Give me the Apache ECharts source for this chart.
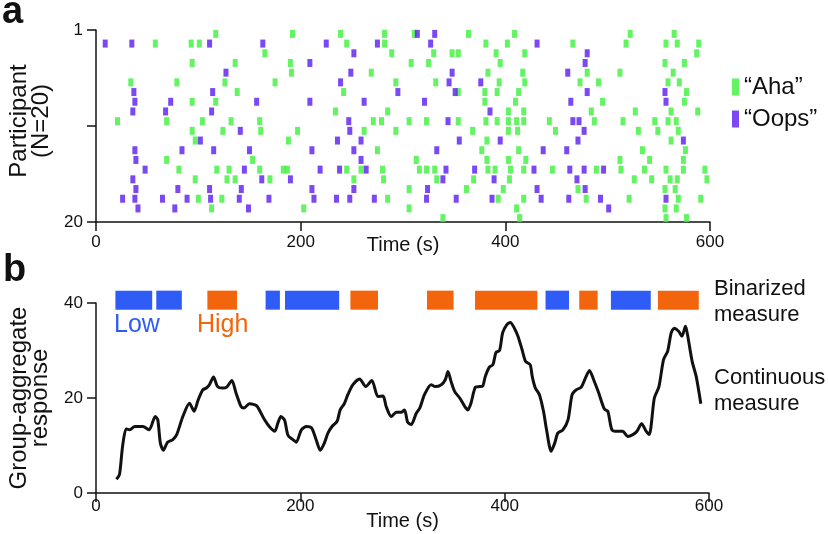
<!DOCTYPE html>
<html>
<head>
<meta charset="utf-8">
<script src="https://cdn.jsdelivr.net/npm/echarts@6/dist/echarts.min.js"></script>
<style>
  html, body { margin: 0; padding: 0; background: #fff; }
  #main { width: 828px; height: 534px; }
</style>
</head>
<body>
<div id="main"></div>
<script>
// raster: event times (s) for each participant, row 1..20
var ahaRows = [
  [117, 192, 239, 282, 311, 364, 409, 522, 565],
  [58, 93, 101, 245, 282, 381, 402, 466, 518, 557, 568, 589],
  [165, 289, 330, 348, 354, 391, 419, 587],
  [94, 136, 190, 308, 325, 395, 556, 575],
  [191, 269, 383, 417, 480, 512, 564],
  [34, 79, 126, 175, 293, 332, 394, 419, 473, 491, 559, 570],
  [138, 242, 354, 380, 392, 413, 577],
  [94, 117, 380, 410, 495, 575],
  [234, 285, 403, 418, 484, 527, 562, 588],
  [21, 69, 104, 132, 160, 271, 279, 306, 323, 354, 381, 392, 403, 411, 418, 443, 487, 515, 546, 559, 567],
  [94, 124, 161, 197, 262, 293, 368, 403, 412, 449, 530, 549, 569],
  [97, 188, 382, 562],
  [275, 377, 413, 534, 576],
  [69, 153, 313, 382, 403, 420, 512, 541, 574],
  [81, 118, 130, 160, 183, 187, 245, 259, 280, 316, 323, 331, 383, 390, 405, 418, 446, 489, 513, 536, 557, 574, 595],
  [97, 128, 136, 170, 252, 281, 333, 369, 404, 526, 543, 561, 568, 597],
  [306, 362, 398, 471, 556, 566],
  [100, 123, 285, 393, 418, 479, 521, 569, 591],
  [113, 203, 306, 411, 556, 567],
  [339, 414, 557, 577]
];
var oopsRows = [
  [314, 331],
  [9, 35, 111, 163, 225, 275, 327, 431],
  [252, 480],
  [209, 478],
  [127, 249, 348, 461],
  [239, 345, 376],
  [37, 114, 295, 351, 480, 556],
  [38, 73, 157, 209, 262, 321, 464, 557],
  [36, 68, 113, 385],
  [247, 344, 466, 472],
  [141, 248, 477],
  [102, 236, 259, 355, 395, 471, 574],
  [38, 84, 115, 150, 211, 252, 333, 437, 460],
  [39, 259],
  [48, 145, 219, 238, 264, 342, 370, 428, 463, 477, 496],
  [36, 162, 190, 339, 389, 470],
  [39, 80, 111, 142, 211, 252, 324, 431, 478],
  [26, 38, 65, 89, 112, 140, 169, 213, 235, 248, 272, 323, 352, 387, 435, 462, 493, 557],
  [41, 77, 149, 501],
  []
];

// binarized measure segments: [start, end, level]
var binStart = [19, 59, 109, 166, 185, 249, 324, 371, 440, 473, 504, 550];
var binEnd   = [55, 84, 138, 180, 238, 276, 350, 432, 463, 491, 543, 590];
var binLevel = ['low', 'low', 'high', 'low', 'low', 'high', 'high', 'high', 'low', 'high', 'low', 'high'];

// continuous group-aggregate response
var respTime = [20, 23, 26, 29.5, 33, 38, 46, 52, 58, 60.5, 63, 66, 70, 75, 79, 85, 91.5, 96, 100, 104.5, 108, 111,
  115, 119, 124, 128, 133, 137, 142, 145, 150, 155, 158, 165, 170, 175, 178, 181, 184.5, 188, 193, 196, 201, 206,
  211, 215.5, 219.5, 223.5, 227, 231, 236, 239, 243, 246.5, 251.5, 258, 264, 270, 276, 281, 284, 289, 294, 299,
  302, 305, 308.5, 313.5, 317, 321.5, 328, 332, 338, 342, 344.5, 347.5, 351, 356, 361, 364, 367, 371.5, 375.5,
  378.5, 381, 385, 388.5, 391.5, 395, 398, 402, 405.5, 409.5, 413, 417, 420.5, 425, 427, 430, 434, 438, 441, 445.5,
  449, 452, 457, 462, 466, 470, 475, 479, 483, 487, 492, 497.5, 501, 505, 510.5, 515.5, 520.5, 525.5, 529.5, 534,
  538.5, 541.5, 546.5, 551, 555.5, 559.5, 563, 566, 570.5, 573.5, 577, 579, 583.5, 587.5, 592];
var respValue = [2.9, 3.9, 9.8, 13.5, 13.3, 14.0, 14.0, 13.3, 16.1, 15.4, 10.5, 9.0, 10.7, 11.2, 12.3, 16.1, 18.9, 17.2,
  19.6, 21.7, 22.1, 22.8, 24.4, 22.4, 22.1, 22.3, 23.7, 21.1, 18.2, 17.9, 18.8, 18.6, 18.2, 15.4, 13.9, 13.0, 14.7,
  16.1, 15.4, 12.1, 11.2, 10.7, 13.3, 14.0, 13.7, 11.2, 9.0, 10.5, 12.6, 14.0, 15.1, 17.5, 18.8, 20.7, 22.8, 24.0,
  22.4, 23.7, 20.3, 20.4, 18.2, 16.1, 17.0, 17.0, 17.5, 14.9, 14.4, 16.8, 17.9, 20.7, 22.8, 22.4, 22.8, 23.9, 25.6,
  23.5, 21.4, 20.0, 18.2, 17.5, 18.9, 22.3, 22.4, 22.5, 24.5, 26.5, 27.0, 29.6, 30.0, 33.7, 35.4, 35.9, 34.7, 33.0,
  30.2, 27.7, 27.0, 24.5, 22.1, 20.7, 17.2, 13.3, 8.8, 10.5, 12.6, 13.3, 15.4, 20.7, 21.7, 22.3, 24.2, 25.8, 23.9,
  21.1, 17.7, 17.2, 13.3, 13.0, 13.0, 11.9, 12.3, 13.0, 14.6, 13.0, 12.3, 20.0, 22.4, 28.1, 29.8, 33.7, 34.7, 34.0,
  33.0, 35.1, 33.3, 27.7, 24.5, 18.8];

var participantTicks = ['1', '', '20'];

var FONT = '"Liberation Sans", Arial, Helvetica, sans-serif';
var GREEN = '#3cf03c', PURPLE = '#5a1cf0', BLUE = '#2f5cf7', ORANGE = '#f2650c';

function rasterData(rows) {
  var out = [];
  rows.forEach(function (times, i) {
    times.forEach(function (t) { out.push([t, i + 1]); });
  });
  return out;
}
var respData = respTime.map(function (t, i) { return [t, respValue[i]]; });
var binData = binStart.map(function (s, i) { return [s, binEnd[i], binLevel[i]]; });

var axisLine = { show: true, onZero: false, lineStyle: { color: '#111', width: 1.5 } };
var axisTick = { inside: false, length: 9, lineStyle: { color: '#111', width: 1.5 } };
var labelStyle = { fontSize: 17, color: '#111' };

var chart = echarts.init(document.getElementById('main'));
var option = {
  animation: false,
  textStyle: { fontFamily: FONT },
  grid: [
    { left: 96, top: 30, width: 614, height: 192, outerBoundsMode: 'none', containLabel: false },
    { left: 96, top: 303, width: 613, height: 190, outerBoundsMode: 'none', containLabel: false }
  ],
  legend: {
    data: ['\u201cAha\u201d', '\u201cOops\u201d'],
    orient: 'vertical', left: 732, top: 75, itemGap: 8, padding: 0,
    itemWidth: 7, itemHeight: 17, icon: 'rect',
    textStyle: { fontSize: 24, lineHeight: 24, color: '#111', fontFamily: FONT }
  },
  xAxis: [
    {
      gridIndex: 0, type: 'value', min: 0, max: 600, interval: 200,
      axisLine: axisLine, axisTick: axisTick, splitLine: { show: false },
      axisLabel: Object.assign({ margin: 12 }, labelStyle),
      name: 'Time (s)', nameLocation: 'middle', nameGap: 13, nameMoveOverlap: false,
      nameTextStyle: { fontSize: 20, color: '#111' }
    },
    {
      gridIndex: 1, type: 'value', min: 0, max: 600, interval: 200,
      axisLine: axisLine, axisTick: axisTick, splitLine: { show: false },
      axisLabel: Object.assign({ margin: 5 }, labelStyle),
      name: 'Time (s)', nameLocation: 'middle', nameGap: 18, nameMoveOverlap: false,
      nameTextStyle: { fontSize: 20, color: '#111' }
    }
  ],
  yAxis: [
    {
      gridIndex: 0, type: 'value', min: 0, max: 19, interval: 9.5, inverse: true,
      axisLine: axisLine, axisTick: axisTick, splitLine: { show: false },
      axisLabel: Object.assign({ margin: 13,
        formatter: function (v) { return participantTicks[Math.round(v / 9.5)]; } }, labelStyle),
      name: 'Participant\n(N=20)', nameLocation: 'middle', nameGap: 43, nameRotate: 90,
      nameTextStyle: { fontSize: 24, color: '#111', lineHeight: 22, padding: [0, 0, 0, 10] }
    },
    {
      gridIndex: 0, type: 'value', min: 0.6, max: 20.4, inverse: true, show: false
    },
    {
      gridIndex: 1, type: 'value', min: 0, max: 40, interval: 20,
      axisLine: axisLine, axisTick: axisTick, splitLine: { show: false },
      axisLabel: Object.assign({ margin: 13 }, labelStyle),
      name: 'Group-aggregate\nresponse', nameLocation: 'middle', nameGap: 45, nameRotate: 90,
      nameTextStyle: { fontSize: 24, color: '#111', lineHeight: 21 }
    }
  ],
  series: [
    {
      name: '\u201cAha\u201d', type: 'scatter', xAxisIndex: 0, yAxisIndex: 1,
      symbol: 'rect', symbolSize: [5, 8], itemStyle: { color: GREEN },
      data: rasterData(ahaRows)
    },
    {
      name: '\u201cOops\u201d', type: 'scatter', xAxisIndex: 0, yAxisIndex: 1,
      symbol: 'rect', symbolSize: [5, 8], itemStyle: { color: PURPLE },
      data: rasterData(oopsRows)
    },
    {
      name: 'Binarized', type: 'custom', xAxisIndex: 1, yAxisIndex: 2, clip: false,
      data: binData,
      renderItem: function (params, api) {
        var p0 = api.coord([api.value(0), 42.6]);
        var p1 = api.coord([api.value(1), 38.6]);
        var lvl = binData[params.dataIndex][2];
        return {
          type: 'rect',
          shape: { x: p0[0], y: p0[1], width: p1[0] - p0[0], height: p1[1] - p0[1] },
          style: { fill: lvl === 'low' ? BLUE : ORANGE }
        };
      }
    },
    {
      name: 'Continuous', type: 'line', xAxisIndex: 1, yAxisIndex: 2,
      data: respData, symbol: 'none', smooth: 0.25,
      lineStyle: { color: '#111', width: 3 }
    }
  ],
  graphic: [
    { type: 'text', left: 2, top: -6, style: { text: 'a', font: 'bold 38px ' + FONT, fill: '#111' } },
    { type: 'text', left: 3, top: 252, style: { text: 'b', font: 'bold 38px ' + FONT, fill: '#111' } },
    { type: 'text', left: 114, top: 313, style: { text: 'Low', font: '25px ' + FONT, fill: BLUE } },
    { type: 'text', left: 197, top: 313, style: { text: 'High', font: '25px ' + FONT, fill: ORANGE } },
    { type: 'text', left: 714, top: 276, style: { text: 'Binarized\nmeasure', font: '22px ' + FONT, fill: '#111', lineHeight: 26 } },
    { type: 'text', left: 714, top: 365, style: { text: 'Continuous\nmeasure', font: '22px ' + FONT, fill: '#111', lineHeight: 26 } }
  ]
};
chart.setOption(option);
</script>
</body>
</html>
